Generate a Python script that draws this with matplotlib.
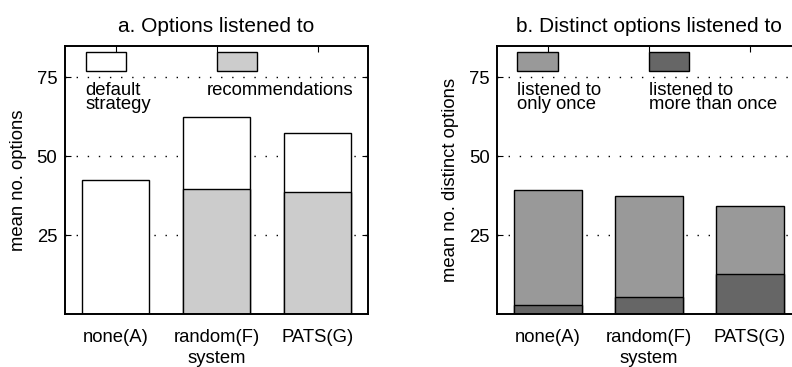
import numpy as np
import matplotlib
matplotlib.use("Agg")
import matplotlib.pyplot as plt
from matplotlib.patches import Rectangle

plt.rcParams['font.family'] = ['Liberation Sans', 'DejaVu Sans']

systems = ["none(A)", "random(F)", "PATS(G)"]

# a. options listened to (total and part coming from recommendations)
total_options = [42.3, 62.3, 57.3]
rec_options = [0.0, 39.5, 38.5]

# b. distinct options listened to
distinct_total = [39.2, 37.3, 34.3]
distinct_more_once = [2.8, 5.3, 12.7]

light_grey = "#cccccc"
mid_grey = "#999999"
dark_grey = "#666666"

FS = 13.3

fig = plt.figure(figsize=(7.92, 3.67), dpi=100)
ax_a = fig.add_axes([0.0821, 0.1444, 0.3826, 0.731])
ax_b = fig.add_axes([0.628, 0.1444, 0.3826, 0.731])

x = np.arange(1, len(systems) + 1)
w = 0.667


def style_axes(ax, ylabel, title):
    ax.set_xlim(0.5, 3.5)
    ax.set_ylim(0, 85)
    ax.set_yticks([25, 50, 75])
    ax.set_xticks(x)
    ax.set_xticklabels(systems)
    ax.tick_params(direction='in', top=True, right=True, labelsize=FS,
                   length=4, width=0.8, pad=11)
    ax.tick_params(axis='y', pad=5.5)
    for yy in [25, 50, 75]:
        ax.axhline(yy, color='black', lw=1, linestyle=(0, (1, 7)), zorder=0.5)
    for s in ax.spines.values():
        s.set_linewidth(1.4)
        s.set_zorder(5)
    ax.set_ylabel(ylabel, fontsize=FS, labelpad=7)
    ax.set_xlabel("system", fontsize=FS, labelpad=3)
    ax.set_title(title, fontsize=15, pad=10)


def legend_item(ax, x0, color, text):
    ax.add_patch(Rectangle((x0, 0.906), 0.133, 0.072, transform=ax.transAxes,
                           facecolor=color, edgecolor='black', lw=1, zorder=4))
    ax.text(x0, 0.866, text, transform=ax.transAxes, ha='left', va='top',
            fontsize=FS, linespacing=0.78, zorder=4)


# panel a
ax_a.bar(x, total_options, w, color='white', edgecolor='black', lw=1, zorder=2)
ax_a.bar(x, rec_options, w, color=light_grey, edgecolor='black', lw=1, zorder=3)
style_axes(ax_a, "mean no. options", "a. Options listened to")
legend_item(ax_a, 0.068, 'white', "default\nstrategy")
legend_item(ax_a, 0.5, light_grey, "")
ax_a.text(0.468, 0.866, "recommendations", transform=ax_a.transAxes,
          ha='left', va='top', fontsize=FS, zorder=4)

# panel b
ax_b.bar(x, distinct_total, w, color=mid_grey, edgecolor='black', lw=1, zorder=2)
ax_b.bar(x, distinct_more_once, w, color=dark_grey, edgecolor='black', lw=1, zorder=3)
style_axes(ax_b, "mean no. distinct options", "b. Distinct options listened to")
legend_item(ax_b, 0.066, mid_grey, "listened to\nonly once")
legend_item(ax_b, 0.499, dark_grey, "listened to\nmore than once")

fig.savefig("out.png", dpi=100)
